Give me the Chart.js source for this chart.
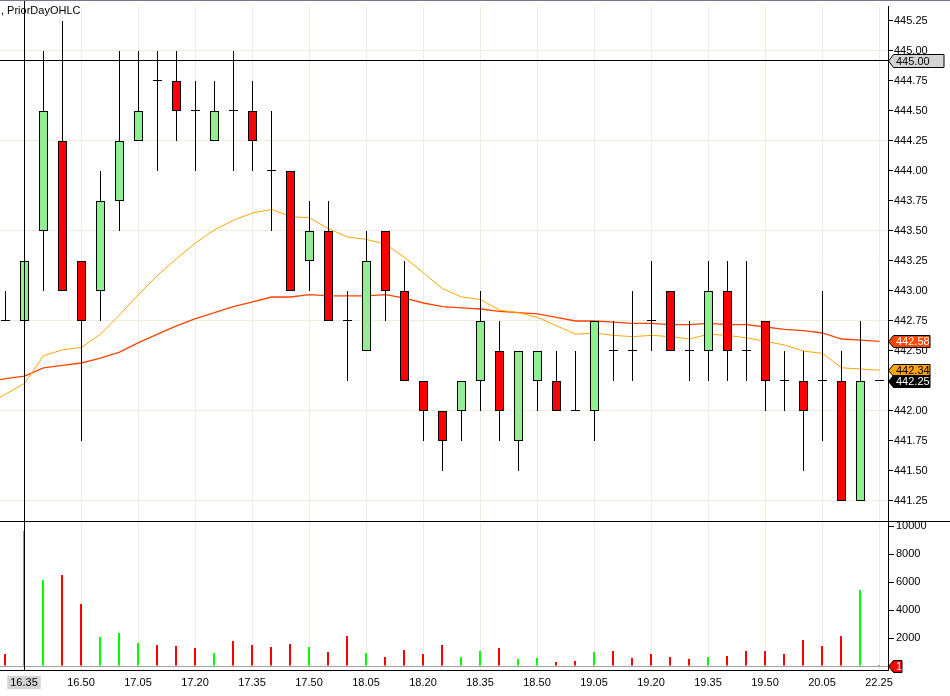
<!DOCTYPE html>
<html>
<head>
<meta charset="UTF-8">
<title>PriorDayOHLC</title>
<script src="https://cdn.jsdelivr.net/npm/chart.js"></script>
<style>
  body { margin: 0; background: #fff; width: 950px; height: 696px; overflow: hidden; position: relative; font-family: "Liberation Sans", Arial, sans-serif; }
  #topline { position: absolute; left: 0; top: 0; width: 950px; height: 1px; background: #787890; z-index: 2; }
  #title { position: absolute; left: 1px; top: 4px; font-size: 11px; color: #000; white-space: nowrap; z-index: 2; }
  #priceBox { position: absolute; left: 0; top: 0; width: 950px; height: 521px; }
  #sep { position: absolute; left: 0; top: 521px; width: 950px; height: 1px; background: #000; }
  #volBox { position: absolute; left: 0; top: 522px; width: 950px; height: 174px; }
</style>
</head>
<body>
<div id="topline"></div>
<div id="title">, PriorDayOHLC</div>
<div id="priceBox"><canvas id="priceChart" width="950" height="521"></canvas></div>
<div id="sep"></div>
<div id="volBox"><canvas id="volChart" width="950" height="174"></canvas></div>

<script>
// 5 minute bars, index 0 = 16.30
const timeLabels = ["16.30","16.35","16.40","16.45","16.50","16.55",
  "17.00","17.05","17.10","17.15","17.20","17.25","17.30","17.35","17.40","17.45","17.50","17.55",
  "18.00","18.05","18.10","18.15","18.20","18.25","18.30","18.35","18.40","18.45","18.50","18.55",
  "19.00","19.05","19.10","19.15","19.20","19.25","19.30","19.35","19.40","19.45","19.50","19.55",
  "20.00","20.05","20.10","20.15","22.25"];
const xTickIndex = [1,4,7,10,13,16,19,22,25,28,31,34,37,40,43,46];

const opens  = [442.75,442.75,443.50,444.25,443.25,443.00,443.75,444.25,444.75,444.75,444.50,444.25,444.50,444.50,444.00,444.00,
                443.25,443.50,442.75,442.50,443.50,443.00,442.25,442.00,442.00,442.25,442.50,441.75,442.25,442.25,442.00,442.00,
                442.50,442.50,442.75,443.00,442.50,442.50,443.00,442.50,442.75,442.25,442.25,442.25,442.25,441.25,442.25];
const highs  = [443.00,443.50,445.00,445.25,443.25,444.00,445.00,445.00,445.00,445.00,444.75,444.75,445.00,444.75,444.50,444.00,
                443.75,443.75,443.00,443.50,443.50,443.25,442.25,442.00,442.25,443.00,442.75,442.50,442.50,442.50,442.50,442.75,
                442.75,443.00,443.25,443.00,442.75,443.25,443.25,443.25,442.75,442.50,442.50,443.00,442.50,442.75,442.25];
const lows   = [442.75,442.50,443.00,443.00,441.75,442.75,443.50,444.25,444.00,444.25,444.00,444.25,444.00,444.00,443.50,443.00,
                443.00,442.75,442.25,442.50,442.75,442.25,441.75,441.50,441.75,442.00,441.75,441.50,442.00,442.00,442.00,441.75,
                442.25,442.25,442.50,442.50,442.25,442.25,442.25,442.25,442.00,442.00,441.50,441.75,441.25,441.25,442.25];
const closes = [442.75,443.25,444.50,443.00,442.75,443.75,444.25,444.50,444.75,444.50,444.50,444.50,444.50,444.25,444.00,443.00,
                443.50,442.75,442.75,443.25,443.00,442.25,442.00,441.75,442.25,442.75,442.00,442.50,442.50,442.00,442.00,442.75,
                442.50,442.50,442.75,442.50,442.50,443.00,442.50,442.50,442.25,442.25,442.00,442.25,441.25,442.25,442.25];
const volumes = [860,9640,6140,6500,4430,2070,2360,1640,1500,1430,1290,930,1790,1500,1360,1570,
                 1360,1000,2140,930,640,1140,860,1500,640,1070,1290,500,570,290,360,1000,
                 1070,570,860,640,500,640,710,1070,1070,860,1860,1430,2140,5430,1];

// moving averages, first value belongs to the bar before 16.30
const maStart = -1;
const maFast = [442.05,442.14,442.23,442.46,442.51,442.53,442.64,442.80,442.97,443.13,443.27,443.40,443.51,443.59,443.65,443.68,
                443.62,443.61,443.52,443.45,443.43,443.39,443.28,443.15,443.02,442.95,442.93,442.84,442.82,442.78,442.71,442.64,
                442.65,442.63,442.62,442.63,442.62,442.60,442.64,442.63,442.61,442.58,442.55,442.50,442.48,442.36,442.35,442.34];
const maSlow = [442.24,442.27,442.29,442.36,442.38,442.40,442.44,442.49,442.57,442.64,442.71,442.77,442.82,442.87,442.91,442.95,
                442.95,442.97,442.96,442.96,442.96,442.97,442.94,442.90,442.87,442.86,442.85,442.83,442.82,442.81,442.78,442.75,
                442.75,442.74,442.73,442.73,442.72,442.72,442.73,442.72,442.72,442.70,442.68,442.67,442.65,442.60,442.59,442.58];

const priceTicks = [441.25,441.50,441.75,442.00,442.25,442.50,442.75,443.00,443.25,443.50,443.75,444.00,444.25,444.50,444.75,445.00,445.25];
const volumeTicks = [0,2000,4000,6000,8000,10000];

const crossIndex = 1;
const crossPrice = 444.92;

const UP = '#90ee90', DOWN = '#ff0000', GRID = '#eeeedc';
const FONT = '"Liberation Sans", Arial, sans-serif';
Chart.defaults.font.family = FONT;
Chart.defaults.font.size = 11;
Chart.defaults.color = '#000';

const idx = opens.map((_, i) => i);
const pxPrice = 0.25 / 30;  // one pixel in price units

const wickData = idx.filter(i => highs[i] > lows[i]).map(i => ({ x: i, y: [lows[i], highs[i]] }));
const bodyData = idx.filter(i => opens[i] !== closes[i]).map(i => ({ x: i, y: [opens[i], closes[i]] }));
const dojiData = idx.filter(i => opens[i] === closes[i]).map(i => ({ x: i, y: [closes[i], closes[i] + pxPrice] }));
const fastData = maFast.map((v, k) => ({ x: k + maStart, y: v }));
const slowData = maSlow.map((v, k) => ({ x: k + maStart, y: v }));

function noPad(s) { s.paddingTop = 0; s.paddingBottom = 0; s.paddingLeft = 0; s.paddingRight = 0; }

function drawTag(ctx, x0, yc, w, h, bg, fg, text) {
  const t = Math.round(yc - h / 2) + 0.5, b = t + h, m = (t + b) / 2;
  ctx.beginPath();
  ctx.moveTo(x0 + 0.5, m);
  ctx.lineTo(x0 + 5.5, t); ctx.lineTo(x0 + w, t); ctx.lineTo(x0 + w, b); ctx.lineTo(x0 + 5.5, b);
  ctx.closePath();
  ctx.fillStyle = bg; ctx.fill();
  ctx.strokeStyle = '#000'; ctx.lineWidth = 1; ctx.stroke();
  ctx.fillStyle = fg;
  ctx.font = '11px ' + FONT;
  ctx.textAlign = 'left'; ctx.textBaseline = 'middle';
  ctx.fillText(text, x0 + 8, m + 0.5);
}

const priceOverlay = {
  id: 'priceOverlay',
  afterDraw(chart) {
    const { ctx, chartArea, scales: { x, y } } = chart;
    const last = closes.length - 1;
    ctx.save();
    ctx.strokeStyle = '#000'; ctx.lineWidth = 1;
    // crosshair
    const cx = Math.floor(x.getPixelForValue(crossIndex)) + 0.5;
    ctx.beginPath(); ctx.moveTo(cx, 1); ctx.lineTo(cx, chartArea.bottom); ctx.stroke();
    const cy = Math.floor(y.getPixelForValue(crossPrice)) + 0.5;
    ctx.beginPath(); ctx.moveTo(0, cy); ctx.lineTo(chartArea.right, cy); ctx.stroke();
    drawTag(ctx, chartArea.right, cy, 56, 13, '#d4d4d4', '#000', (Math.round(crossPrice * 4) / 4).toFixed(2));
    // value tags
    const slowLast = maSlow[maSlow.length - 1], fastLast = maFast[maFast.length - 1];
    drawTag(ctx, chartArea.right, y.getPixelForValue(slowLast), 42, 12, '#ff4500', '#fff', slowLast.toFixed(2));
    drawTag(ctx, chartArea.right, y.getPixelForValue(fastLast), 42, 12, '#ffa500', '#000', fastLast.toFixed(2));
    drawTag(ctx, chartArea.right, y.getPixelForValue(closes[last]), 42, 12, '#000', '#fff', closes[last].toFixed(2));
    ctx.restore();
  }
};

const volOverlay = {
  id: 'volOverlay',
  afterDraw(chart) {
    const { ctx, chartArea, scales: { x, y } } = chart;
    ctx.save();
    ctx.strokeStyle = '#000'; ctx.lineWidth = 1;
    const cx = Math.floor(x.getPixelForValue(crossIndex)) + 0.5;
    ctx.beginPath(); ctx.moveTo(cx, 0); ctx.lineTo(cx, chartArea.bottom); ctx.stroke();
    const v = volumes[volumes.length - 1];
    drawTag(ctx, chartArea.right, y.getPixelForValue(v), 14, 12, '#ff0000', '#fff', String(v));
    ctx.restore();
  }
};

const plotRight = 888;
const firstPx = 5.5, slotPx = 19;

new Chart(document.getElementById('priceChart'), {
  type: 'bar',
  data: {
    datasets: [
      { type: 'line', data: slowData, borderColor: '#ff4500', borderWidth: 1.3, pointRadius: 0, tension: 0, order: 5 },
      { type: 'line', data: fastData, borderColor: '#ffa500', borderWidth: 1, pointRadius: 0, tension: 0, order: 4 },
      { data: wickData, backgroundColor: '#000', barThickness: 1, grouped: false, inflateAmount: 0, borderWidth: 0, order: 3 },
      { data: bodyData, backgroundColor: c => (c.raw && closes[c.raw.x] > opens[c.raw.x]) ? UP : DOWN,
        borderColor: '#000', borderWidth: 1, borderSkipped: false, barThickness: 9, grouped: false, inflateAmount: 0, order: 2 },
      { data: dojiData, backgroundColor: '#000', barThickness: 9, grouped: false, inflateAmount: 0, borderWidth: 0, order: 1 }
    ]
  },
  options: {
    responsive: false,
    devicePixelRatio: 1,
    animation: false,
    events: [],
    layout: { padding: { top: 6, left: 0, right: 0, bottom: 0 } },
    plugins: { legend: { display: false }, tooltip: { enabled: false } },
    scales: {
      x: {
        type: 'linear',
        offset: false,
        min: -firstPx / slotPx,
        max: (plotRight - firstPx) / slotPx,
        afterBuildTicks: s => { s.ticks = xTickIndex.map(v => ({ value: v })); },
        afterFit: s => { s.height = 0; noPad(s); },
        ticks: { display: false },
        grid: { color: GRID, drawTicks: false, offset: false },
        border: { display: false }
      },
      y: {
        type: 'linear',
        position: 'right',
        min: 445.375 - 515 / 120,
        max: 445.375,
        afterBuildTicks: s => { s.ticks = priceTicks.map(v => ({ value: v })); },
        afterFit: s => { s.width = 950 - plotRight; noPad(s); },
        ticks: { callback: v => v.toFixed(2), padding: 1, autoSkip: false },
        grid: { color: c => (c.index % 3 === 0 ? GRID : 'rgba(0,0,0,0)'), tickColor: '#000', tickLength: 5 },
        border: { display: true, color: '#000' }
      }
    }
  },
  plugins: [priceOverlay]
});

new Chart(document.getElementById('volChart'), {
  type: 'bar',
  data: {
    datasets: [
      { data: volumes.map((v, i) => ({ x: i, y: v })),
        backgroundColor: c => (closes[c.dataIndex] > opens[c.dataIndex] ? '#00ff00' : '#ff0000'),
        barThickness: 2, grouped: false, inflateAmount: 0, borderWidth: 0 }
    ]
  },
  options: {
    responsive: false,
    devicePixelRatio: 1,
    animation: false,
    events: [],
    layout: { padding: { top: 0, left: 0, right: 0, bottom: 0 } },
    plugins: { legend: { display: false }, tooltip: { enabled: false } },
    scales: {
      x: {
        type: 'linear',
        offset: false,
        min: -(firstPx - 0.5) / slotPx,
        max: (plotRight - firstPx + 0.5) / slotPx,
        afterBuildTicks: s => { s.ticks = xTickIndex.map(v => ({ value: v })); },
        afterFit: s => { s.height = 26; noPad(s); },
        ticks: {
          callback: v => timeLabels[v], autoSkip: false, maxRotation: 0, padding: 6,
          showLabelBackdrop: c => c.tick && c.tick.value === crossIndex,
          backdropColor: '#d4d4d4', backdropPadding: { x: 3, y: 0 }
        },
        grid: { color: GRID, drawTicks: false, offset: false },
        border: { display: true, color: '#000' }
      },
      y: {
        type: 'linear',
        position: 'right',
        min: -4 / 0.014,
        max: 144 / 0.014,
        afterBuildTicks: s => { s.ticks = volumeTicks.map(v => ({ value: v })); },
        afterFit: s => { s.width = 950 - plotRight; noPad(s); },
        ticks: { callback: v => (v === 0 ? '' : String(v)), padding: 2, autoSkip: false },
        grid: { color: c => (c.tick && c.tick.value === 0 ? '#a0a0a0' : 'rgba(0,0,0,0)'), tickColor: '#000', tickLength: 6 },
        border: { display: true, color: '#000' }
      }
    }
  },
  plugins: [volOverlay]
});
</script>
</body>
</html>
